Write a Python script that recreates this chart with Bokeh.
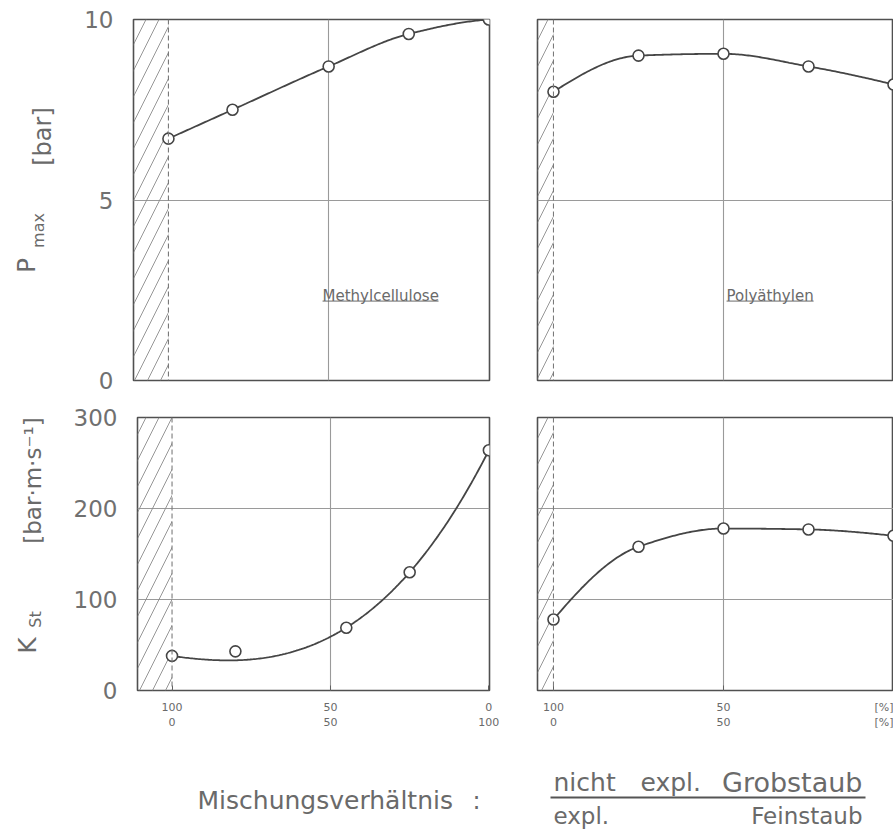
import numpy as np
from bokeh.plotting import figure
from bokeh.layouts import row, column
from bokeh.models import FixedTicker, Span, Range1d
from bokeh.core.properties import value
from bokeh.embed import file_html
from bokeh.resources import INLINE

# ---------------- data ----------------
x_ticks = [0, 50, 100]
left_tick_labels = ["100\n0", "50\n50", "0\n100"]
right_tick_labels = ["100\n0", "50\n50", "[%]\n[%]"]

pmax_ticks = [0, 5, 10]
kst_ticks = [0, 100, 200, 300]

mc_x_p = [0, 20, 50, 75, 100]
mc_pmax = [6.7, 7.5, 8.7, 9.6, 10.0]
mc_x_k = [0, 20, 55, 75, 100]
mc_kst = [38, 43, 69, 130, 264]
mc_kst_fit_weight = [1, 0.05, 1, 1, 1]   # 2nd point lies off the drawn trend curve

pe_x = [0, 25, 50, 75, 100]
pe_pmax = [8.0, 9.0, 9.05, 8.7, 8.2]
pe_kst = [78, 158, 178, 177, 170]

label_mc = "Methylcellulose"
label_pe = "Polyäthylen"

# ---------------- style ----------------
FONT = "DejaVu Sans"
TXT = "#6a6a6a"
LINE = "#454545"
GRID = "#9a9a9a"


def pchip(x, y, n=200):
    x = np.asarray(x, float)
    y = np.asarray(y, float)
    h = np.diff(x)
    d = np.diff(y) / h
    m = np.zeros_like(y)
    for k in range(1, len(x) - 1):
        if d[k - 1] * d[k] <= 0:
            m[k] = 0.0
        else:
            w1 = 2 * h[k] + h[k - 1]
            w2 = h[k] + 2 * h[k - 1]
            m[k] = (w1 + w2) / (w1 / d[k - 1] + w2 / d[k])

    def end(h0, h1, d0, d1):
        mm = ((2 * h0 + h1) * d0 - h0 * d1) / (h0 + h1)
        if np.sign(mm) != np.sign(d0):
            mm = 0.0
        elif np.sign(d0) != np.sign(d1) and abs(mm) > abs(3 * d0):
            mm = 3 * d0
        return mm

    m[0] = end(h[0], h[1], d[0], d[1])
    m[-1] = end(h[-1], h[-2], d[-1], d[-2])
    xs = np.linspace(x[0], x[-1], n)
    idx = np.clip(np.searchsorted(x, xs) - 1, 0, len(x) - 2)
    t = (xs - x[idx]) / h[idx]
    h00 = 2 * t**3 - 3 * t**2 + 1
    h10 = t**3 - 2 * t**2 + t
    h01 = -2 * t**3 + 3 * t**2
    h11 = t**3 - t**2
    ys = h00 * y[idx] + h10 * h[idx] * m[idx] + h01 * y[idx + 1] + h11 * h[idx] * m[idx + 1]
    return xs, ys


def polycurve(x, y, w, deg=3, n=200):
    c = np.polyfit(x, y, deg, w=w)
    xs = np.linspace(min(x), max(x), n)
    return xs, np.polyval(c, xs)


def panel(width, height, xr, yr, mb, yticks, ygrid, show_y, show_x, tick_labels):
    p = figure(width=width, height=height, x_range=Range1d(*xr), y_range=Range1d(*yr),
               output_backend="svg", toolbar_location=None,
               min_border_left=mb[0], min_border_right=mb[1],
               min_border_top=mb[2], min_border_bottom=mb[3])
    p.background_fill_color = "white"
    p.border_fill_color = "white"
    p.outline_line_color = "#505050"
    p.outline_line_width = 1.6
    # y axis
    p.yaxis.ticker = FixedTicker(ticks=yticks)
    p.yaxis.axis_line_color = None
    p.yaxis.major_tick_line_color = None
    p.yaxis.minor_tick_line_color = None
    p.yaxis.major_label_text_font = FONT
    p.yaxis.major_label_text_font_size = "23px"
    p.yaxis.major_label_text_color = "#707070"
    p.yaxis.major_label_standoff = 14
    p.yaxis.visible = show_y
    # x axis
    p.xaxis.ticker = FixedTicker(ticks=x_ticks)
    p.xaxis.major_label_overrides = {t: lab for t, lab in zip(x_ticks, tick_labels)}
    p.xaxis.axis_line_color = None
    p.xaxis.major_tick_in = 5
    p.xaxis.major_tick_out = 0
    p.xaxis.major_tick_line_color = "#606060"
    p.xaxis.minor_tick_line_color = None
    p.xaxis.major_label_text_font = FONT
    p.xaxis.major_label_text_font_size = "11px"
    p.xaxis.major_label_text_color = "#6a6a6a"
    p.xaxis.major_label_standoff = 10
    p.xaxis.visible = show_x
    # grids
    p.xgrid.ticker = FixedTicker(ticks=[50])
    p.ygrid.ticker = FixedTicker(ticks=ygrid)
    p.xgrid.grid_line_color = GRID
    p.ygrid.grid_line_color = GRID
    p.xgrid.grid_line_width = 1.1
    p.ygrid.grid_line_width = 1.1
    # hatched (non explosive) zone
    p.quad(left=[xr[0]], right=[0], bottom=[yr[0]], top=[yr[1]],
           fill_color="white", fill_alpha=0.0, line_color=None,
           hatch_pattern="/", hatch_color="#8a8a8a", hatch_scale=26, hatch_weight=0.9)
    p.add_layout(Span(location=0, dimension="height", line_color="#7a7a7a",
                      line_dash="5 3", line_width=1.1))
    return p


# panels (page has no margin: page pixel = layout pixel)
LX = (-10.9, 100.2)
RX = (-4.7, 100.0)
f1 = panel(441, 398, LX, (0, 10), (63, 22, 19, 18), pmax_ticks, [5], True, False, left_tick_labels)
f2 = panel(382, 398, RX, (0, 10), (26, 0, 19, 18), pmax_ticks, [5], False, False, right_tick_labels)
f3 = panel(441, 342, LX, (0, 300), (63, 22, 19, 50), kst_ticks, [100, 200], True, True, left_tick_labels)
f4 = panel(382, 342, RX, (0, 300), (26, 0, 19, 50), kst_ticks, [100, 200], False, True, right_tick_labels)

# curves and points
cx, cy = pchip(mc_x_p, mc_pmax)
f1.line(cx, cy, line_color=LINE, line_width=1.8)
f1.scatter(mc_x_p, mc_pmax, marker="circle", size=11, fill_color="white",
           line_color=LINE, line_width=1.6)

cx, cy = pchip(pe_x, pe_pmax)
f2.line(cx, cy, line_color=LINE, line_width=1.8)
f2.scatter(pe_x, pe_pmax, marker="circle", size=11, fill_color="white",
           line_color=LINE, line_width=1.6)

cx, cy = polycurve(mc_x_k, mc_kst, mc_kst_fit_weight)
f3.line(cx, cy, line_color=LINE, line_width=1.8)
f3.scatter(mc_x_k, mc_kst, marker="circle", size=11, fill_color="white",
           line_color=LINE, line_width=1.6)

cx, cy = pchip(pe_x, pe_kst)
f4.line(cx, cy, line_color=LINE, line_width=1.8)
f4.scatter(pe_x, pe_kst, marker="circle", size=11, fill_color="white",
           line_color=LINE, line_width=1.6)

# material names (underlined)
f1.text(x=[48.1], y=[2.33], text=[label_mc], text_font=value(FONT), text_font_size="15px",
        text_color=TXT, text_align="left", text_baseline="alphabetic")
f1.segment(x0=[48.1], y0=[2.2], x1=[84.3], y1=[2.2], line_color=TXT, line_width=1)
f2.text(x=[50.9], y=[2.33], text=[label_pe], text_font=value(FONT), text_font_size="15px",
        text_color=TXT, text_align="left", text_baseline="alphabetic")
f2.segment(x0=[50.9], y0=[2.2], x1=[76.5], y1=[2.2], line_color=TXT, line_width=1)

# y label figure (pixel-like coordinates: y = 740 - page_y)
yl = figure(width=70, height=740, x_range=Range1d(0, 70), y_range=Range1d(0, 740),
            output_backend="svg", toolbar_location=None,
            min_border_left=0, min_border_right=0, min_border_top=0, min_border_bottom=0)
yl.axis.visible = False
yl.grid.visible = False
yl.outline_line_color = None
A = np.pi / 2
for (x, y, t, s) in [(26, 475, "P", "25px"), (38, 510, "max", "16px"),
                     (42, 604, "[bar]", "24px"),
                     (27, 95, "K", "25px"), (35, 121, "St", "16px"),
                     (32, 260, "[bar·m·s⁻¹]", "23px")]:
    yl.text(x=[x], y=[y], text=[t], angle=A, text_font=value(FONT), text_font_size=s,
            text_color=TXT, text_align="center", text_baseline="middle")

# bottom label figure (y = 832 - page_y, x = page_x)
bl = figure(width=893, height=92, x_range=Range1d(0, 893), y_range=Range1d(0, 92),
            output_backend="svg", toolbar_location=None,
            min_border_left=0, min_border_right=0, min_border_top=0, min_border_bottom=0)
bl.axis.visible = False
bl.grid.visible = False
bl.outline_line_color = None
bl.text(x=[197], y=[32], text=["Mischungsverhältnis"], text_font=value(FONT),
        text_font_size="25px", text_color=TXT, text_align="left", text_baseline="middle")
bl.text(x=[472], y=[32], text=[":"], text_font=value(FONT),
        text_font_size="24px", text_color=TXT, text_align="left", text_baseline="middle")
bl.text(x=[553], y=[50], text=["nicht"], text_font=value(FONT),
        text_font_size="25px", text_color=TXT, text_align="left", text_baseline="middle")
bl.text(x=[640], y=[50], text=["expl."], text_font=value(FONT),
        text_font_size="25px", text_color=TXT, text_align="left", text_baseline="middle")
bl.text(x=[862], y=[50], text=["Grobstaub"], text_font=value(FONT),
        text_font_size="27px", text_color=TXT, text_align="right", text_baseline="middle")
bl.segment(x0=[550], y0=[35], x1=[865], y1=[35], line_color="#555555", line_width=2)
bl.text(x=[553], y=[17], text=["expl."], text_font=value(FONT),
        text_font_size="23px", text_color=TXT, text_align="left", text_baseline="middle")
bl.text(x=[862], y=[17], text=["Feinstaub"], text_font=value(FONT),
        text_font_size="23px", text_color=TXT, text_align="right", text_baseline="middle")

layout = column(row(yl, column(row(f1, f2), row(f3, f4))), bl)
open("out.html", "w").write(file_html(layout, INLINE))
